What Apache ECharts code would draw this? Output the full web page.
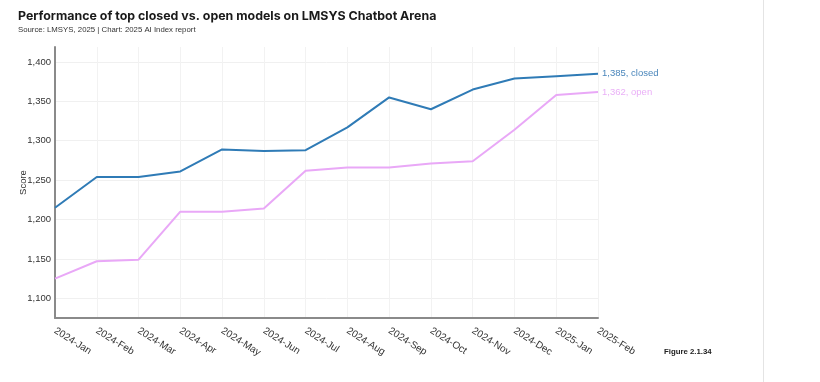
<!DOCTYPE html>
<html>
<head>
<meta charset="utf-8">
<script src="https://cdn.jsdelivr.net/npm/echarts@6/dist/echarts.min.js"></script>
<style>
html,body{margin:0;padding:0;background:#fff;}
#chart{width:820px;height:382px;}
</style>
</head>
<body>
<div id="chart"></div>
<script>
const categories = ['2024-Jan','2024-Feb','2024-Mar','2024-Apr','2024-May','2024-Jun','2024-Jul','2024-Aug','2024-Sep','2024-Oct','2024-Nov','2024-Dec','2025-Jan','2025-Feb'];
const closedScores = [1215, 1254, 1254, 1261, 1289, 1287, 1288, 1317, 1355, 1340, 1365, 1379, 1382, 1385];
const openScores = [1125, 1147, 1149, 1210, 1210, 1214, 1262, 1266, 1266, 1271, 1274, 1314, 1358, 1362];
const seriesNames = ['closed', 'open'];

const fmt = v => Number(v).toLocaleString('en-US');
const chart = echarts.init(document.getElementById('chart'), null, {renderer: 'canvas'});
const font = 'Liberation Sans, Arial, sans-serif';
chart.setOption({
  animation: false,
  backgroundColor: '#fff',
  title: [{
    text: 'Performance of top closed vs. open models on LMSYS Chatbot Arena',
    left: 18, top: 10, padding: 0,
    textStyle: {fontFamily: 'Inter, sans-serif', fontWeight: 'bold', fontSize: 12.4, color: '#1a1a1a'}
  }, {
    text: 'Source: LMSYS, 2025 | Chart: 2025 AI Index report',
    left: 18, top: 26, padding: 0,
    textStyle: {fontFamily: font, fontWeight: 'normal', fontSize: 7.8, color: '#333'}
  }, {
    text: 'Figure 2.1.34',
    left: 664, top: 348, padding: 0,
    textStyle: {fontFamily: font, fontWeight: 'bold', fontSize: 7.8, color: '#222'}
  }],
  grid: {left: 55, right: 222, top: 47, bottom: 64, containLabel: false},
  xAxis: {
    type: 'category',
    data: categories,
    boundaryGap: false,
    axisLine: {show: true, lineStyle: {color: '#8a8a8a', width: 2}},
    axisTick: {show: false},
    axisLabel: {rotate: -32, fontFamily: font, fontSize: 10, color: '#333', margin: 12, interval: 0},
    splitLine: {show: true, lineStyle: {color: '#f2f2f2', width: 1}}
  },
  yAxis: {
    type: 'value',
    min: 1075, max: 1419, interval: 25,
    name: 'Score', nameLocation: 'middle', nameGap: 27, nameMoveOverlap: false,
    nameTextStyle: {fontFamily: font, fontSize: 9.5, color: '#333'},
    axisLine: {show: true, lineStyle: {color: '#8a8a8a', width: 2}},
    axisTick: {show: false},
    axisLabel: {
      fontFamily: font, fontSize: 9.5, color: '#333', margin: 4,
      formatter: v => (v % 50 === 0 ? fmt(v) : '')
    },
    splitLine: {show: true, lineStyle: {color: ['rgba(0,0,0,0)', '#f0f0f0'], width: 1}}
  },
  series: [{
    name: seriesNames[0],
    type: 'line',
    data: closedScores,
    symbol: 'none',
    lineStyle: {color: '#2f7bb6', width: 2},
    itemStyle: {color: '#2f7bb6'},
    endLabel: {show: true, distance: 4, fontFamily: font, fontSize: 9.5, color: '#4a86bb',
      formatter: p => fmt(p.value) + ', ' + p.seriesName}
  }, {
    name: seriesNames[1],
    type: 'line',
    data: openScores,
    symbol: 'none',
    lineStyle: {color: '#e9a8f7', width: 2},
    itemStyle: {color: '#e9a8f7'},
    endLabel: {show: true, distance: 4, fontFamily: font, fontSize: 9.5, color: '#eab0f7',
      formatter: p => fmt(p.value) + ', ' + p.seriesName}
  }],
  graphic: [{
    type: 'line', shape: {x1: 763.5, y1: 0, x2: 763.5, y2: 382},
    style: {stroke: '#e4e4e4', lineWidth: 1}, silent: true
  }]
});
</script>
</body>
</html>
